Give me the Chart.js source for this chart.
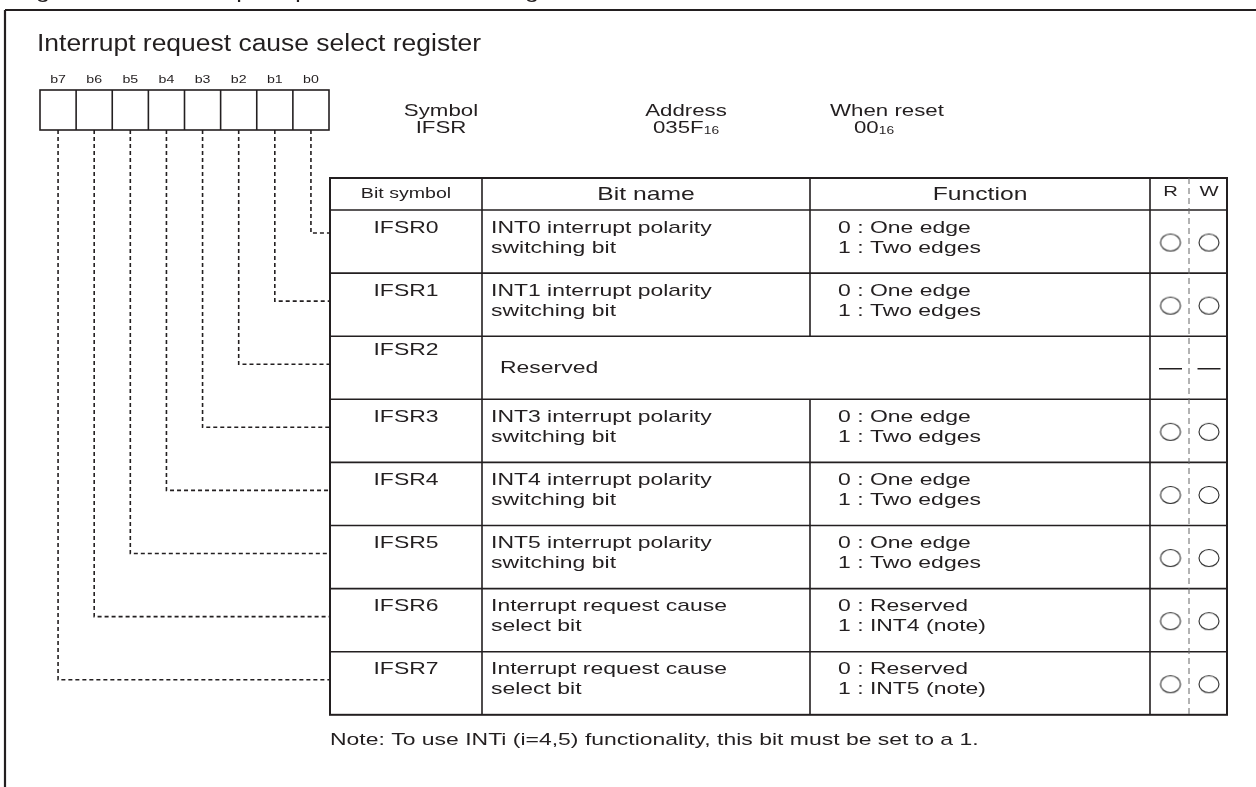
<!DOCTYPE html>
<html>
<head>
<meta charset="utf-8">
<script src="https://cdn.jsdelivr.net/npm/chart.js@4.4.1/dist/chart.umd.min.js"></script>
<style>
html, body { margin: 0; padding: 0; background: #fff; }
#wrap { width: 1256px; height: 787px; position: relative; }
</style>
</head>
<body>
<div id="wrap"><canvas id="reg"></canvas></div>
<script>
// register content
var bitLabels = ["b7", "b6", "b5", "b4", "b3", "b2", "b1", "b0"];
var symbols = ["IFSR0", "IFSR1", "IFSR2", "IFSR3", "IFSR4", "IFSR5", "IFSR6", "IFSR7"];
var bitNames = [
    ["INT0 interrupt polarity", "switching bit"],
    ["INT1 interrupt polarity", "switching bit"],
    ["Reserved"],
    ["INT3 interrupt polarity", "switching bit"],
    ["INT4 interrupt polarity", "switching bit"],
    ["INT5 interrupt polarity", "switching bit"],
    ["Interrupt request cause", "select bit"],
    ["Interrupt request cause", "select bit"]
];
var functions = [
    ["0 : One edge", "1 : Two edges"],
    ["0 : One edge", "1 : Two edges"],
    [],
    ["0 : One edge", "1 : Two edges"],
    ["0 : One edge", "1 : Two edges"],
    ["0 : One edge", "1 : Two edges"],
    ["0 : Reserved", "1 : INT4 (note)"],
    ["0 : Reserved", "1 : INT5 (note)"]
];
var readAccess  = ["o", "o", "-", "o", "o", "o", "o", "o"];
var writeAccess = ["o", "o", "-", "o", "o", "o", "o", "o"];
var headers = ["Bit symbol", "Bit name", "Function", "R", "W"];
var title = "Interrupt request cause select register";
var figTitle = "Figure 10.10 Interrupt request cause select register";
var regInfo = [["Symbol", "IFSR", ""], ["Address", "035F", "16"], ["When reset", "00", "16"]];
var note = "Note: To use INTi (i=4,5) functionality, this bit must be set to a 1.";

// layout (diagram units = pixels)
var INK = "#231f20";
var FONT = '"Liberation Sans", Arial, Helvetica, sans-serif';
var SX = 1.35;
var box = { left: 40, right: 329, top: 90, bottom: 130 };
var tbl = { top: 178, head: 32, row: 63.1, cols: [330, 482, 810, 1150, 1189, 1227] };
function rowTop(r) { return tbl.top + tbl.head + r * tbl.row; }
function bitX(i) { return box.left + (box.right - box.left) / 8 * (i + 0.5); }
var colR = (tbl.cols[3] + tbl.cols[4]) / 2 + 1;
var colW = (tbl.cols[4] + tbl.cols[5]) / 2 + 1;

// dashed leaders from each bit box to its table row
var datasets = [];
bitLabels.forEach(function (b, i) {
    var r = 7 - i;
    var cy = rowTop(r) + (r === 0 ? 23 : 28);
    datasets.push({
        type: "line",
        data: [{ x: bitX(i), y: box.bottom }, { x: bitX(i), y: cy }, { x: tbl.cols[0], y: cy }],
        borderColor: INK, borderWidth: 1.6, borderDash: [4, 3],
        pointRadius: 0, tension: 0, fill: false, clip: false
    });
});

// ellipse marker for R/W
var ell = document.createElement("canvas");
ell.width = 26; ell.height = 22;
(function () {
    var c = ell.getContext("2d");
    c.strokeStyle = "#2a2a2a"; c.lineWidth = 1.1;
    c.beginPath(); c.ellipse(13, 11, 10, 8.5, 0, 0, Math.PI * 2); c.stroke();
})();

var circPts = [], dashPts = [];
[[readAccess, colR], [writeAccess, colW]].forEach(function (pair) {
    pair[0].forEach(function (v, r) {
        var p = { x: pair[1], y: rowTop(r) + tbl.row / 2 + 1 };
        if (v === "o") circPts.push(p); else dashPts.push(p);
    });
});
datasets.push({ type: "scatter", data: circPts, pointStyle: ell, pointRadius: 11, clip: false });
datasets.push({ type: "scatter", data: dashPts, pointStyle: "line", pointRadius: 11.5,
    pointBorderColor: INK, pointBorderWidth: 1.5, clip: false });

function txt(ctx, s, x, y, size, align, sx) {
    ctx.save();
    ctx.font = size + "px " + FONT;
    ctx.fillStyle = INK;
    ctx.textBaseline = "middle";
    ctx.textAlign = align || "left";
    ctx.translate(x, y);
    ctx.scale(sx || SX, 1);
    ctx.fillText(s, 0, 0);
    ctx.restore();
}
function subTxt(ctx, s, sub, cx, y, size) {
    ctx.save();
    ctx.font = size + "px " + FONT;
    var w1 = ctx.measureText(s).width * SX;
    ctx.font = (size * 0.62) + "px " + FONT;
    var w2 = ctx.measureText(sub).width * SX;
    ctx.restore();
    var x0 = cx - (w1 + w2) / 2;
    txt(ctx, s, x0, y, size, "left");
    if (sub) txt(ctx, sub, x0 + w1, y + 3, size * 0.62, "left");
}

var diagram = {
    id: "diagram",
    beforeDatasetsDraw: function (chart) {
        var ctx = chart.ctx, sx = chart.scales.x, sy = chart.scales.y;
        function X(v) { return sx.getPixelForValue(v); }
        function Y(v) { return sy.getPixelForValue(v); }
        function line(x1, y1, x2, y2, w) {
            ctx.beginPath(); ctx.lineWidth = w; ctx.moveTo(X(x1), Y(y1)); ctx.lineTo(X(x2), Y(y2)); ctx.stroke();
        }
        ctx.save();
        ctx.strokeStyle = INK;
        // figure frame
        line(5, 10, 1256, 10, 2.2);
        line(5, 10, 5, 787, 2.2);
        txt(ctx, figTitle, X(15), Y(-8), 21, "left", 1.2);
        txt(ctx, title, X(37), Y(45), 23, "left", 1.15);

        // register boxes
        var cw = (box.right - box.left) / 8;
        ctx.lineWidth = 1.6;
        ctx.strokeRect(X(box.left), Y(box.top), X(box.right) - X(box.left), Y(box.bottom) - Y(box.top));
        bitLabels.forEach(function (b, i) {
            if (i > 0) line(box.left + cw * i, box.top, box.left + cw * i, box.bottom, 1.6);
            txt(ctx, b, X(bitX(i)), Y(80), 10.5, "center");
        });

        // symbol / address / reset
        var infoX = [441, 686, 887];
        regInfo.forEach(function (inf, k) {
            txt(ctx, inf[0], X(infoX[k]), Y(111), 16.5, "center");
            subTxt(ctx, inf[1], inf[2], X(infoX[k] - (k === 2 ? 13 : 0)), Y(128), 16.5);
        });

        // table
        var c = tbl.cols, bottom = rowTop(8);
        ctx.lineWidth = 2;
        ctx.strokeRect(X(c[0]), Y(tbl.top), X(c[5]) - X(c[0]), Y(bottom) - Y(tbl.top));
        line(c[0], tbl.top + tbl.head, c[5], tbl.top + tbl.head, 1.6);
        for (var r = 1; r < 8; r++) line(c[0], rowTop(r), c[5], rowTop(r), 1.6);
        line(c[1], tbl.top, c[1], bottom, 1.6);
        line(c[3], tbl.top, c[3], bottom, 1.6);
        for (r = -1; r < 8; r++) {
            if (r >= 0 && functions[r].length === 0) continue;
            var y0 = r < 0 ? tbl.top : rowTop(r), y1 = r < 0 ? tbl.top + tbl.head : rowTop(r + 1);
            line(c[2], y0, c[2], y1, 1.6);
        }
        ctx.save();
        ctx.strokeStyle = "#666";
        ctx.setLineDash([6, 4]);
        line(c[4], tbl.top, c[4], bottom, 1);
        ctx.restore();

        // header texts
        var hy = tbl.top + tbl.head / 2;
        txt(ctx, headers[0], X((c[0] + c[1]) / 2), Y(hy), 14.5, "center");
        txt(ctx, headers[1], X((c[1] + c[2]) / 2), Y(hy + 1), 19, "center", 1.3);
        txt(ctx, headers[2], X((c[2] + c[3]) / 2), Y(hy + 1), 19, "center", 1.3);
        txt(ctx, headers[3], X(colR), Y(hy - 2), 15, "center");
        txt(ctx, headers[4], X(colW), Y(hy - 2), 15, "center");

        // rows
        symbols.forEach(function (s, r) {
            var t = rowTop(r);
            var reserved = functions[r].length === 0;
            txt(ctx, s, X((c[0] + c[1]) / 2), Y(t + (reserved ? 14 : 18)), 17, "center");
            if (reserved) {
                txt(ctx, bitNames[r][0], X(c[1] + 18), Y(t + 32), 17, "left");
            } else {
                bitNames[r].forEach(function (l, k) { txt(ctx, l, X(c[1] + 9), Y(t + 18 + k * 20), 17, "left"); });
                functions[r].forEach(function (l, k) { txt(ctx, l, X(c[2] + 28), Y(t + 18 + k * 20), 17, "left"); });
            }
        });

        txt(ctx, note, X(c[0]), Y(bottom + 26), 17, "left");
        ctx.restore();
    }
};

new Chart(document.getElementById("reg"), {
    type: "scatter",
    data: { datasets: datasets },
    options: {
        responsive: true,
        maintainAspectRatio: false,
        animation: false,
        events: [],
        layout: { padding: 0, autoPadding: false },
        plugins: { legend: { display: false }, tooltip: { enabled: false } },
        scales: {
            x: { type: "linear", min: 0, max: 1256, display: false },
            y: { type: "linear", min: 0, max: 787, reverse: true, display: false }
        }
    },
    plugins: [diagram]
});
</script>
</body>
</html>
